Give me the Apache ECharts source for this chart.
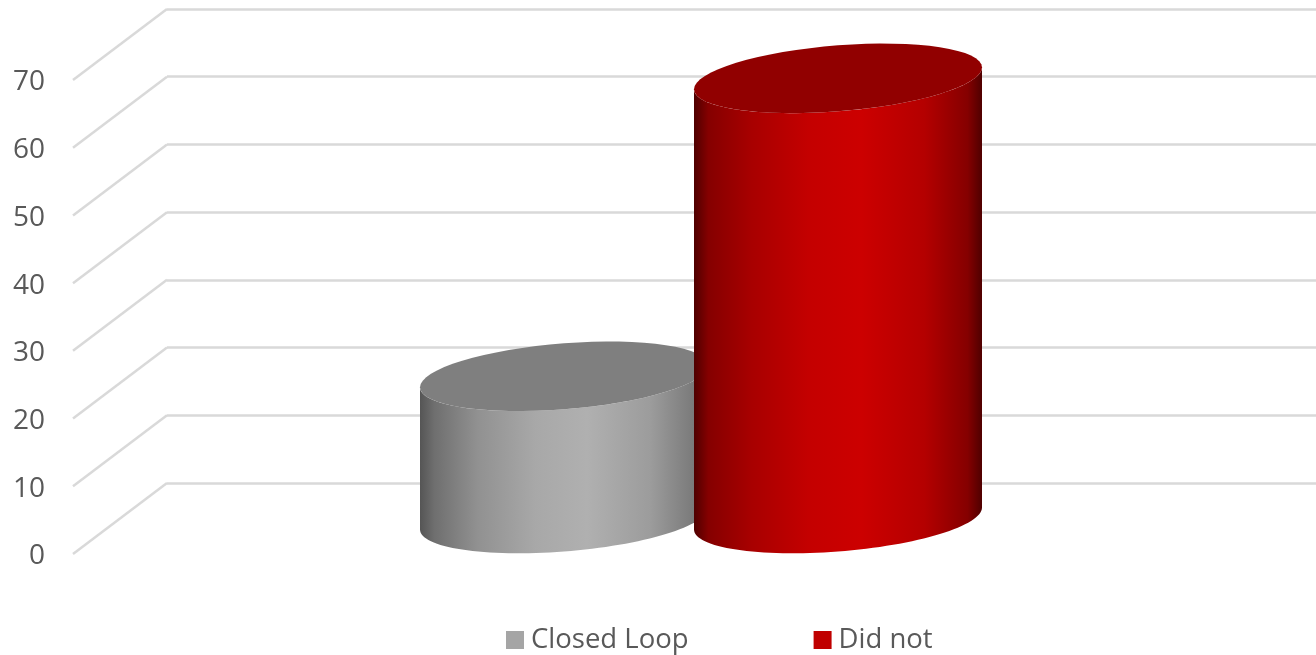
<!DOCTYPE html>
<html>
<head>
<meta charset="utf-8">
<title>Closed Loop</title>
<script src="https://cdn.jsdelivr.net/npm/echarts@6/dist/echarts.min.js"></script>
<style>
html,body{margin:0;padding:0;background:#fff;}
#main{width:1316px;height:655px;}
</style>
</head>
<body>
<div id="main"></div>
<script>
var categories = [''];
var seriesNames = ['Closed Loop', 'Did not'];
var closedLoop = [21];
var didNot = [65];
var yTicks = [0, 10, 20, 30, 40, 50, 60, 70];

// depth of the fake 3d box, front plane to back wall
var depthX = 94;
var depthY = 71;
var barW = 288;
var barGap = 137;
var ellipseRy = 33;
var ellipseSkew = 11;

var fontName = '"Open Sans", sans-serif';
var chart = echarts.init(document.getElementById('main'));

function ellipsePoints(cx, cy, from, to) {
	var pts = [];
	var rx = barW / 2;
	for (var i = 0; i <= 64; i++) {
		var t = from + (to - from) * i / 64;
		pts.push([cx + rx * Math.cos(t), cy - ellipseSkew * Math.cos(t) + ellipseRy * Math.sin(t)]);
	}
	return pts;
}

function cylinder(offset, stops, topColor) {
	return function (params, api) {
		var base = api.coord([api.value(0), 0]);
		var top = api.coord([api.value(0), api.value(1)]);
		var cx = base[0] + offset + depthX / 2;
		var yBase = base[1] - depthY / 2;
		var yTop = top[1] - depthY / 2;
		// side wall: lower half of bottom ellipse, then back along the top one
		var body = ellipsePoints(cx, yBase, 0, Math.PI).concat(ellipsePoints(cx, yTop, Math.PI, 0));
		return {
			type: 'group',
			children: [{
				type: 'polygon',
				shape: { points: body },
				style: { fill: new echarts.graphic.LinearGradient(0, 0, 1, 0, stops) }
			}, {
				type: 'polygon',
				shape: { points: ellipsePoints(cx, yTop, 0, Math.PI * 2) },
				style: { fill: topColor }
			}]
		};
	};
}

function toPairs(arr) {
	return arr.map(function (v, i) { return [i, v]; });
}

var grayStops = [
	{ offset: 0, color: '#555555' },
	{ offset: 0.05, color: '#6f6f6f' },
	{ offset: 0.2, color: '#919191' },
	{ offset: 0.4, color: '#a8a8a8' },
	{ offset: 0.58, color: '#b0b0b0' },
	{ offset: 0.8, color: '#9c9c9c' },
	{ offset: 0.95, color: '#7a7a7a' },
	{ offset: 1, color: '#5a5a5a' }
];
var redStops = [
	{ offset: 0, color: '#4f0000' },
	{ offset: 0.05, color: '#850000' },
	{ offset: 0.2, color: '#a80000' },
	{ offset: 0.4, color: '#c40000' },
	{ offset: 0.58, color: '#cc0000' },
	{ offset: 0.8, color: '#b40000' },
	{ offset: 0.95, color: '#850000' },
	{ offset: 1, color: '#4f0000' }
];

var option = {
	backgroundColor: '#ffffff',
	animation: false,
	legend: {
		data: seriesNames,
		left: 506,
		top: 626,
		padding: 0,
		icon: 'rect',
		itemWidth: 18,
		itemHeight: 18,
		itemGap: 125,
		textStyle: { color: '#595959', fontSize: 27.5, fontFamily: fontName, padding: [0, 0, 0, 2] }
	},
	grid: [
		{ left: 73, top: 80, width: 1162, height: 474 },
		{ left: 167, top: 9, right: 0, height: 474 }
	],
	xAxis: [
		{ type: 'category', data: categories, gridIndex: 0, show: false },
		{ type: 'category', data: categories, gridIndex: 1, show: false }
	],
	yAxis: [
		{
			type: 'value', gridIndex: 0, min: 0, max: 70, interval: 10,
			axisLine: { show: false },
			axisTick: { show: false },
			splitLine: { show: false },
			// text sits a little under its tick in the original
			axisLabel: { color: '#595959', fontSize: 28, fontFamily: fontName, margin: 28, verticalAlign: 'top', lineHeight: 5 }
		},
		{
			type: 'value', gridIndex: 1, min: 0, max: 70, interval: 10,
			axisLine: { show: false },
			axisTick: { show: false },
			axisLabel: { show: false },
			splitLine: { lineStyle: { color: '#d9d9d9', width: 2.5 } }
		}
	],
	series: [
		{
			// side wall diagonals
			type: 'custom',
			silent: true,
			xAxisIndex: 0,
			yAxisIndex: 0,
			data: yTicks.map(function (v) { return [0, v]; }),
			renderItem: function (params, api) {
				var y = api.coord([0, api.value(1)])[1];
				return {
					type: 'line',
					shape: { x1: 73, y1: y, x2: 73 + depthX, y2: y - depthY },
					style: { stroke: '#d9d9d9', lineWidth: 2.5 }
				};
			},
			z: 1
		},
		{
			name: seriesNames[0],
			type: 'custom',
			xAxisIndex: 0,
			yAxisIndex: 0,
			itemStyle: { color: '#a5a5a5' },
			data: toPairs(closedLoop),
			renderItem: cylinder(-barGap, grayStops, '#7f7f7f'),
			z: 2
		},
		{
			name: seriesNames[1],
			type: 'custom',
			xAxisIndex: 0,
			yAxisIndex: 0,
			itemStyle: { color: '#c00000' },
			data: toPairs(didNot),
			renderItem: cylinder(barGap, redStops, '#910000'),
			z: 3
		}
	]
};
chart.setOption(option);
</script>
</body>
</html>
